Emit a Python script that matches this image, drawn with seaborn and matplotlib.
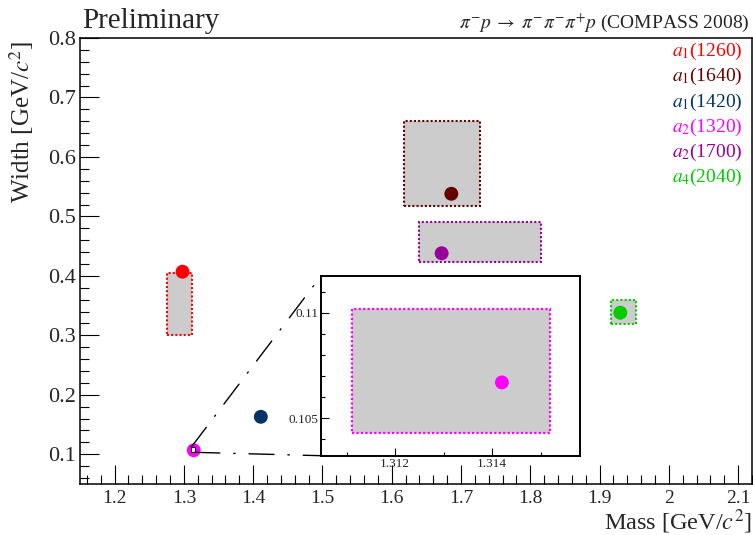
import numpy as np
import pandas as pd
import matplotlib
matplotlib.use("Agg")
import matplotlib.pyplot as plt
import seaborn as sns
from matplotlib.patches import Rectangle, ConnectionPatch
from matplotlib.ticker import FixedLocator, MultipleLocator

# ---------------- data ----------------
states = ["a1(1260)", "a1(1640)", "a1(1420)", "a2(1320)", "a2(1700)", "a4(2040)"]
state_labels = [r"$a_1$(1260)", r"$a_1$(1640)", r"$a_1$(1420)",
                r"$a_2$(1320)", r"$a_2$(1700)", r"$a_4$(2040)"]
colors = ["#ff0000", "#660000", "#003366", "#ff00ff", "#990099", "#00cc00"]
mass = [1.298, 1.686, 1.411, 1.3142, 1.672, 1.930]
width = [0.407, 0.538, 0.163, 0.1067, 0.438, 0.338]
mass_low = [1.275, 1.618, 1.407, 1.3111, 1.640, 1.917]
mass_high = [1.311, 1.727, 1.415, 1.3152, 1.816, 1.952]
width_low = [0.301, 0.518, 0.157, 0.1043, 0.423, 0.319]
width_high = [0.405, 0.661, 0.169, 0.1102, 0.490, 0.359]

x_ticks = [1.2, 1.3, 1.4, 1.5, 1.6, 1.7, 1.8, 1.9, 2.0, 2.1]
x_tick_labels = ["1.2", "1.3", "1.4", "1.5", "1.6", "1.7", "1.8", "1.9", "2", "2.1"]
y_ticks = [0.1, 0.2, 0.3, 0.4, 0.5, 0.6, 0.7, 0.8]
y_tick_labels = ["0.1", "0.2", "0.3", "0.4", "0.5", "0.6", "0.7", "0.8"]
inset_x_ticks = [1.312, 1.314]
inset_x_tick_labels = ["1.312", "1.314"]
inset_y_ticks = [0.105, 0.11]
inset_y_tick_labels = ["0.105", "0.11"]

main_xlim = (1.15, 2.12)
main_ylim = (0.05, 0.8)
inset_xlim = (1.31047, 1.31581)
inset_ylim = (0.10323, 0.11174)

# ---------------- style ----------------
sns.set_style("ticks")
plt.rcParams["font.family"] = ["Liberation Serif", "DejaVu Serif"]
plt.rcParams["mathtext.fontset"] = "stix"

df = pd.DataFrame({"state": states, "mass": mass, "width": width})
palette = dict(zip(states, colors))

W, H = 753, 535
fig = plt.figure(figsize=(W / 100, H / 100), dpi=100)

# main axes (pixel layout: left 80, right 752, top 38, bottom 484)
ax = fig.add_axes([80 / W, (H - 484) / H, (752 - 80) / W, (484 - 38) / H])
ax.set_xlim(*main_xlim)
ax.set_ylim(*main_ylim)


def draw_boxes(a, lw):
    for i in range(len(states)):
        a.add_patch(Rectangle((mass_low[i], width_low[i]),
                              mass_high[i] - mass_low[i],
                              width_high[i] - width_low[i],
                              facecolor="#cccccc", edgecolor=colors[i],
                              linewidth=lw, linestyle=(0, (1, 1)), zorder=1))


draw_boxes(ax, 1.5)
sns.scatterplot(data=df, x="mass", y="width", hue="state", palette=palette,
                s=100, edgecolor="none", legend=False, ax=ax, zorder=3)

for s in ax.spines.values():
    s.set_linewidth(1.1)
    s.set_color("black")
ax.xaxis.set_major_locator(FixedLocator(x_ticks))
ax.set_xticklabels(x_tick_labels)
ax.xaxis.set_minor_locator(MultipleLocator(0.02))
ax.yaxis.set_major_locator(FixedLocator(y_ticks))
ax.set_yticklabels(y_tick_labels)
ax.yaxis.set_minor_locator(MultipleLocator(0.02))
ax.tick_params(which="both", direction="in", top=False, right=False, width=0.8, color="black")
ax.tick_params(which="major", length=14)
ax.tick_params(which="minor", length=6.5)
ax.tick_params(axis="x", which="major", labelsize=14, pad=4)
ax.tick_params(axis="y", which="major", labelsize=16, pad=3)

ax.set_xlabel(r"Mass [GeV/$c^2$]", fontsize=17.5, loc="right")
ax.xaxis.label.set_va("baseline")
ax.xaxis.set_label_coords(1.0, -(530 - 484) / 446)
ax.set_ylabel(r"Width [GeV/$c^2$]", fontsize=18, loc="top")
ax.yaxis.set_label_coords(-(80 - 36) / 672, 1.0 - 3 / 446)

# zoom indicator square on main plot
ax.add_patch(Rectangle((inset_xlim[0], inset_ylim[0]),
                       inset_xlim[1] - inset_xlim[0], inset_ylim[1] - inset_ylim[0],
                       facecolor="white", edgecolor="black", linewidth=0.8, zorder=5))

# legend-like coloured labels
for i, lab in enumerate(state_labels):
    ax.text((742.7 - 80) / 672, (484 - 51.7 - 25.2 * i) / 446, lab, transform=ax.transAxes,
            ha="right", va="center", color=colors[i], fontsize=14)

fig.text(82 / W, (H - 28) / H, "Preliminary", fontsize=21, ha="left", va="baseline")
fig.text(750 / W, (H - 28) / H,
         r"$\pi^{-}p\;\rightarrow\;\pi^{-}\pi^{-}\pi^{+}p$ (COMPASS 2008)",
         fontsize=14, ha="right", va="baseline")

# inset axes (pixel: left 321, right 580, top 276, bottom 455.7)
axins = fig.add_axes([321 / W, (H - 455.7) / H, (580 - 321) / W, (455.7 - 276) / H])
axins.set_facecolor("white")
axins.set_xlim(*inset_xlim)
axins.set_ylim(*inset_ylim)
draw_boxes(axins, 1.6)
sns.scatterplot(data=df, x="mass", y="width", hue="state", palette=palette,
                s=100, edgecolor="none", legend=False, ax=axins, zorder=3)
axins.set_xlabel("")
axins.set_ylabel("")
for s in axins.spines.values():
    s.set_linewidth(1.4)
    s.set_color("black")
axins.xaxis.set_major_locator(FixedLocator(inset_x_ticks))
axins.set_xticklabels(inset_x_tick_labels)
axins.xaxis.set_minor_locator(MultipleLocator(0.001))
axins.yaxis.set_major_locator(FixedLocator(inset_y_ticks))
axins.set_yticklabels(inset_y_tick_labels)
axins.yaxis.set_minor_locator(MultipleLocator(0.001))
axins.tick_params(which="both", direction="in", top=False, right=False, width=0.8,
                  color="black", labelsize=9.5, pad=2)
axins.tick_params(which="major", length=5.5)
axins.tick_params(which="minor", length=3)

# dash-dot connectors
dash = (0, (18, 10, 1, 10))
for xyA, xyB in [((inset_xlim[0], inset_ylim[1]), (0, 1)),
                 ((inset_xlim[1], inset_ylim[0]), (0, 0))]:
    con = ConnectionPatch(xyA=xyA, coordsA=ax.transData, xyB=xyB, coordsB=axins.transAxes,
                          color="black", linewidth=1.0, linestyle=dash, zorder=4)
    fig.add_artist(con)

fig.savefig("out.png", dpi=100)
